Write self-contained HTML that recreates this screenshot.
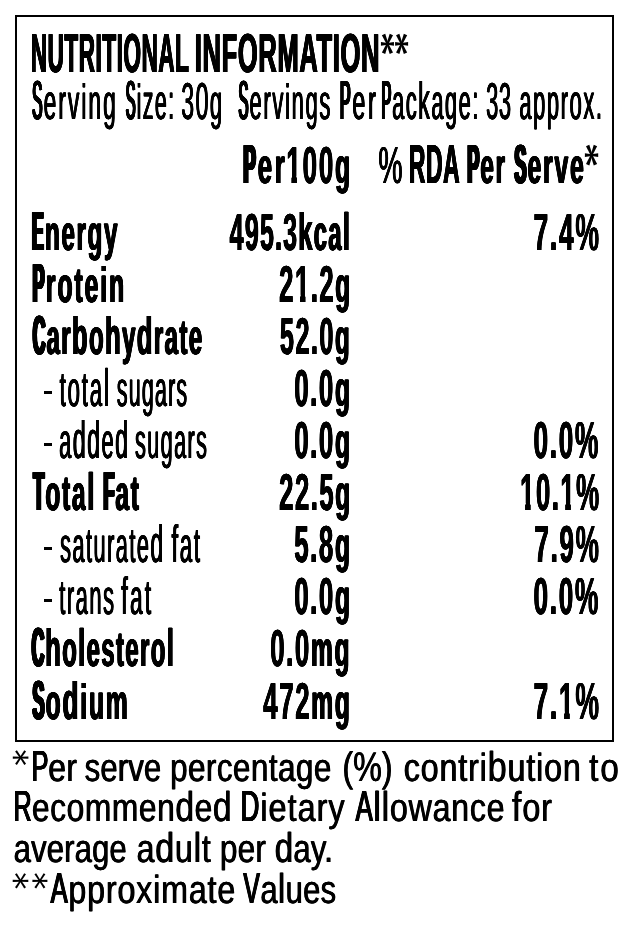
<!DOCTYPE html>
<html><head><meta charset="utf-8"><title>Nutritional Information</title><style>
html,body{margin:0;padding:0;background:#fff}
body{width:624px;height:938px;position:relative;overflow:hidden;color:#000;font-family:"Liberation Sans",sans-serif}
.box{position:absolute;left:15px;top:15px;width:595px;height:723px;border:2px solid #000}
.stars{position:absolute;left:0;top:0;fill:#000}
.dash{position:absolute;left:43.9px;width:8.4px;height:3px;background:#000}
.t{position:absolute;text-rendering:geometricPrecision;filter:grayscale(1);white-space:pre;line-height:1;transform-origin:0 0}
.b{font-weight:700;letter-spacing:3.5px;text-shadow:0.33px 0 #000,-0.33px 0 #000,0.67px 0 #000,-0.67px 0 #000,1.00px 0 #000,-1.00px 0 #000}
.r{font-weight:400;letter-spacing:3.5px;text-shadow:0.40px 0 #000,-0.40px 0 #000,0.80px 0 #000,-0.80px 0 #000}
.f{font-weight:400;letter-spacing:0.6px;text-shadow:0.50px 0 #000,-0.50px 0 #000}
</style></head><body>
<div class="box"></div>
<div class="t b" style="left:23.93px;top:26.20px;font-size:54.80px;transform:scaleX(0.4089);letter-spacing:1.50px"> NUTRITIONAL</div>
<div class="t b" style="left:186.87px;top:26.20px;font-size:54.80px;transform:scaleX(0.4646);letter-spacing:1.50px"> INFORMATION</div>
<div class="t r" style="left:23.16px;top:73.00px;font-size:54.80px;transform:scaleX(0.4569);letter-spacing:4.54px"> <span style="display:inline-block;transform:scaleX(0.620);transform-origin:0 100%;margin-right:-15.61px;text-shadow:0.37px 0 #000,-0.37px 0 #000,0.74px 0 #000,-0.74px 0 #000,1.11px 0 #000,-1.11px 0 #000,1.49px 0 #000,-1.49px 0 #000,1.86px 0 #000,-1.86px 0 #000,2.23px 0 #000,-2.23px 0 #000,2.60px 0 #000,-2.60px 0 #000">S</span><span style="font-size:49.60px">erving</span></div>
<div class="t r" style="left:117.93px;top:73.00px;font-size:54.80px;transform:scaleX(0.4315);letter-spacing:3.22px"> <span style="display:inline-block;transform:scaleX(0.620);transform-origin:0 100%;margin-right:-15.11px;text-shadow:0.37px 0 #000,-0.37px 0 #000,0.74px 0 #000,-0.74px 0 #000,1.11px 0 #000,-1.11px 0 #000,1.49px 0 #000,-1.49px 0 #000,1.86px 0 #000,-1.86px 0 #000,2.23px 0 #000,-2.23px 0 #000,2.60px 0 #000,-2.60px 0 #000">S</span><span style="font-size:49.60px">ize:</span></div>
<div class="t r" style="left:172.84px;top:73.00px;font-size:54.80px;transform:scaleX(0.4432);letter-spacing:3.38px"> <span style="font-size:52.00px">30</span><span style="font-size:49.60px">g</span></div>
<div class="t r" style="left:229.58px;top:73.00px;font-size:54.80px;transform:scaleX(0.4430);letter-spacing:3.79px"> <span style="display:inline-block;transform:scaleX(0.620);transform-origin:0 100%;margin-right:-15.33px;text-shadow:0.37px 0 #000,-0.37px 0 #000,0.74px 0 #000,-0.74px 0 #000,1.11px 0 #000,-1.11px 0 #000,1.49px 0 #000,-1.49px 0 #000,1.86px 0 #000,-1.86px 0 #000,2.23px 0 #000,-2.23px 0 #000,2.60px 0 #000,-2.60px 0 #000">S</span><span style="font-size:49.60px">ervings</span></div>
<div class="t r" style="left:329.92px;top:73.00px;font-size:54.80px;transform:scaleX(0.4720);letter-spacing:5.76px"> <span style="display:inline-block;transform:scaleX(0.620);transform-origin:0 100%;margin-right:-16.08px;text-shadow:0.37px 0 #000,-0.37px 0 #000,0.74px 0 #000,-0.74px 0 #000,1.11px 0 #000,-1.11px 0 #000,1.49px 0 #000,-1.49px 0 #000,1.86px 0 #000,-1.86px 0 #000,2.23px 0 #000,-2.23px 0 #000,2.60px 0 #000,-2.60px 0 #000">P</span><span style="font-size:49.60px">er</span></div>
<div class="t r" style="left:373.19px;top:73.00px;font-size:54.80px;transform:scaleX(0.4405);letter-spacing:3.42px"> <span style="display:inline-block;transform:scaleX(0.620);transform-origin:0 100%;margin-right:-15.19px;text-shadow:0.37px 0 #000,-0.37px 0 #000,0.74px 0 #000,-0.74px 0 #000,1.11px 0 #000,-1.11px 0 #000,1.49px 0 #000,-1.49px 0 #000,1.86px 0 #000,-1.86px 0 #000,2.23px 0 #000,-2.23px 0 #000,2.60px 0 #000,-2.60px 0 #000">P</span><span style="font-size:49.60px">ac</span><span style="font-size:52.60px">k</span><span style="font-size:49.60px">age:</span></div>
<div class="t r" style="left:479.42px;top:73.00px;font-size:54.80px;transform:scaleX(0.4211);letter-spacing:1.50px"> <span style="font-size:52.00px">33</span></div>
<div class="t r" style="left:511.48px;top:73.00px;font-size:54.80px;transform:scaleX(0.4410);letter-spacing:3.68px"> <span style="font-size:49.60px">approx.</span></div>
<div class="t b" style="left:232.75px;top:137.05px;font-size:54.80px;transform:scaleX(0.5175);letter-spacing:5.12px"> <span style="display:inline-block;transform:scaleX(0.660);transform-origin:0 100%;margin-right:-14.17px;text-shadow:0.37px 0 #000,-0.37px 0 #000,0.73px 0 #000,-0.73px 0 #000,1.10px 0 #000,-1.10px 0 #000,1.47px 0 #000,-1.47px 0 #000,1.83px 0 #000,-1.83px 0 #000,2.20px 0 #000,-2.20px 0 #000,2.57px 0 #000,-2.57px 0 #000,2.93px 0 #000,-2.93px 0 #000,3.30px 0 #000,-3.30px 0 #000">P</span><span style="font-size:49.60px">er</span></div>
<div class="t b" style="left:277.27px;top:137.05px;font-size:54.80px;transform:scaleX(0.4967);letter-spacing:3.73px"> <span style="font-size:52.00px;text-shadow:0.35px 0 #000,-0.35px 0 #000,0.70px 0 #000,-0.70px 0 #000"><span style="display:inline-block;clip-path:polygon(-5px -5px,37.7px -5px,37.7px 35.7px,20.6px 35.7px,20.6px 61.0px,10.8px 61.0px,10.8px 35.7px,-5px 35.7px)">1</span>00</span><span style="font-size:49.60px">g</span></div>
<div class="t r" style="left:367.48px;top:137.05px;font-size:54.80px;transform:scaleX(0.5227);letter-spacing:6.50px"> <span style="font-size:52.00px">%</span></div>
<div class="t b" style="left:402.10px;top:137.05px;font-size:54.80px;transform:scaleX(0.4160);letter-spacing:1.50px"> RDA</div>
<div class="t b" style="left:457.62px;top:137.05px;font-size:54.80px;transform:scaleX(0.4935);letter-spacing:3.43px"> <span style="display:inline-block;transform:scaleX(0.660);transform-origin:0 100%;margin-right:-13.60px;text-shadow:0.37px 0 #000,-0.37px 0 #000,0.73px 0 #000,-0.73px 0 #000,1.10px 0 #000,-1.10px 0 #000,1.47px 0 #000,-1.47px 0 #000,1.83px 0 #000,-1.83px 0 #000,2.20px 0 #000,-2.20px 0 #000,2.57px 0 #000,-2.57px 0 #000,2.93px 0 #000,-2.93px 0 #000,3.30px 0 #000,-3.30px 0 #000">P</span><span style="font-size:49.60px">er</span></div>
<div class="t b" style="left:505.26px;top:137.05px;font-size:54.80px;transform:scaleX(0.4968);letter-spacing:3.68px"> <span style="display:inline-block;transform:scaleX(0.660);transform-origin:0 100%;margin-right:-13.68px;text-shadow:0.37px 0 #000,-0.37px 0 #000,0.73px 0 #000,-0.73px 0 #000,1.10px 0 #000,-1.10px 0 #000,1.47px 0 #000,-1.47px 0 #000,1.83px 0 #000,-1.83px 0 #000,2.20px 0 #000,-2.20px 0 #000,2.57px 0 #000,-2.57px 0 #000,2.93px 0 #000,-2.93px 0 #000,3.30px 0 #000,-3.30px 0 #000">S</span><span style="font-size:49.60px">erve</span></div>
<div class="t b" style="left:23.37px;top:204.20px;font-size:54.80px;transform:scaleX(0.4903);letter-spacing:3.23px"> <span style="display:inline-block;transform:scaleX(0.660);transform-origin:0 100%;margin-right:-13.52px;text-shadow:0.37px 0 #000,-0.37px 0 #000,0.73px 0 #000,-0.73px 0 #000,1.10px 0 #000,-1.10px 0 #000,1.47px 0 #000,-1.47px 0 #000,1.83px 0 #000,-1.83px 0 #000,2.20px 0 #000,-2.20px 0 #000,2.57px 0 #000,-2.57px 0 #000,2.93px 0 #000,-2.93px 0 #000,3.30px 0 #000,-3.30px 0 #000">E</span><span style="font-size:49.60px">nergy</span></div>
<div class="t b" style="left:221.33px;top:204.20px;font-size:54.80px;transform:scaleX(0.4818);letter-spacing:2.63px"> <span style="font-size:52.00px;text-shadow:0.35px 0 #000,-0.35px 0 #000,0.70px 0 #000,-0.70px 0 #000">495</span><span style="font-size:49.60px">.</span><span style="font-size:52.00px;text-shadow:0.35px 0 #000,-0.35px 0 #000,0.70px 0 #000,-0.70px 0 #000">3</span><span style="font-size:52.60px">k</span><span style="font-size:49.60px">ca</span><span style="font-size:52.60px">l</span></div>
<div class="t b" style="left:523.68px;top:204.20px;font-size:54.80px;transform:scaleX(0.5035);letter-spacing:3.86px"> <span style="font-size:52.00px;text-shadow:0.35px 0 #000,-0.35px 0 #000,0.70px 0 #000,-0.70px 0 #000">7</span><span style="font-size:49.60px">.</span><span style="font-size:52.00px;text-shadow:0.35px 0 #000,-0.35px 0 #000,0.70px 0 #000,-0.70px 0 #000">4</span><span style="font-size:52.00px;font-weight:400;letter-spacing:3.5px;text-shadow:0.38px 0 #000,-0.38px 0 #000,0.75px 0 #000,-0.75px 0 #000,1.12px 0 #000,-1.12px 0 #000,1.50px 0 #000,-1.50px 0 #000">%</span></div>
<div class="t b" style="left:22.72px;top:256.05px;font-size:54.80px;transform:scaleX(0.4989);letter-spacing:3.86px"> <span style="display:inline-block;transform:scaleX(0.660);transform-origin:0 100%;margin-right:-13.74px;text-shadow:0.37px 0 #000,-0.37px 0 #000,0.73px 0 #000,-0.73px 0 #000,1.10px 0 #000,-1.10px 0 #000,1.47px 0 #000,-1.47px 0 #000,1.83px 0 #000,-1.83px 0 #000,2.20px 0 #000,-2.20px 0 #000,2.57px 0 #000,-2.57px 0 #000,2.93px 0 #000,-2.93px 0 #000,3.30px 0 #000,-3.30px 0 #000">P</span><span style="font-size:49.60px">rotein</span></div>
<div class="t b" style="left:270.14px;top:256.05px;font-size:54.80px;transform:scaleX(0.4929);letter-spacing:3.29px"> <span style="font-size:52.00px;text-shadow:0.35px 0 #000,-0.35px 0 #000,0.70px 0 #000,-0.70px 0 #000">2<span style="display:inline-block;clip-path:polygon(-5px -5px,37.2px -5px,37.2px 35.7px,20.6px 35.7px,20.6px 61.0px,10.8px 61.0px,10.8px 35.7px,-5px 35.7px)">1</span></span><span style="font-size:49.60px">.</span><span style="font-size:52.00px;text-shadow:0.35px 0 #000,-0.35px 0 #000,0.70px 0 #000,-0.70px 0 #000">2</span><span style="font-size:49.60px">g</span></div>
<div class="t b" style="left:23.75px;top:308.15px;font-size:54.80px;transform:scaleX(0.4851);letter-spacing:2.90px"> <span style="display:inline-block;transform:scaleX(0.660);transform-origin:0 100%;margin-right:-14.44px;text-shadow:0.37px 0 #000,-0.37px 0 #000,0.73px 0 #000,-0.73px 0 #000,1.10px 0 #000,-1.10px 0 #000,1.47px 0 #000,-1.47px 0 #000,1.83px 0 #000,-1.83px 0 #000,2.20px 0 #000,-2.20px 0 #000,2.57px 0 #000,-2.57px 0 #000,2.93px 0 #000,-2.93px 0 #000,3.30px 0 #000,-3.30px 0 #000">C</span><span style="font-size:49.60px">ar</span><span style="font-size:52.60px">b</span><span style="font-size:49.60px">o</span><span style="font-size:52.60px">h</span><span style="font-size:49.60px">y</span><span style="font-size:52.60px">d</span><span style="font-size:49.60px">rate</span></div>
<div class="t b" style="left:271.27px;top:308.15px;font-size:54.80px;transform:scaleX(0.4858);letter-spacing:3.17px"> <span style="font-size:52.00px;text-shadow:0.35px 0 #000,-0.35px 0 #000,0.70px 0 #000,-0.70px 0 #000">52</span><span style="font-size:49.60px">.</span><span style="font-size:52.00px;text-shadow:0.35px 0 #000,-0.35px 0 #000,0.70px 0 #000,-0.70px 0 #000">0</span><span style="font-size:49.60px">g</span></div>
<div class="t r" style="left:51.00px;top:360.00px;font-size:54.80px;transform:scaleX(0.4472);letter-spacing:4.07px"> <span style="font-size:49.60px">tota</span><span style="font-size:52.60px">l</span></div>
<div class="t r" style="left:109.03px;top:360.00px;font-size:54.80px;transform:scaleX(0.4302);letter-spacing:2.91px"> <span style="font-size:49.60px">sugars</span></div>
<div class="t b" style="left:285.09px;top:360.00px;font-size:54.80px;transform:scaleX(0.4954);letter-spacing:3.51px"> <span style="font-size:52.00px;text-shadow:0.35px 0 #000,-0.35px 0 #000,0.70px 0 #000,-0.70px 0 #000">0</span><span style="font-size:49.60px">.</span><span style="font-size:52.00px;text-shadow:0.35px 0 #000,-0.35px 0 #000,0.70px 0 #000,-0.70px 0 #000">0</span><span style="font-size:49.60px">g</span></div>
<div class="t r" style="left:51.40px;top:412.10px;font-size:54.80px;transform:scaleX(0.4401);letter-spacing:3.35px"> <span style="font-size:49.60px">a</span><span style="font-size:52.60px">dd</span><span style="font-size:49.60px">e</span><span style="font-size:52.60px">d</span></div>
<div class="t r" style="left:126.82px;top:412.10px;font-size:54.80px;transform:scaleX(0.4356);letter-spacing:3.21px"> <span style="font-size:49.60px">sugars</span></div>
<div class="t b" style="left:285.09px;top:412.10px;font-size:54.80px;transform:scaleX(0.4954);letter-spacing:3.51px"> <span style="font-size:52.00px;text-shadow:0.35px 0 #000,-0.35px 0 #000,0.70px 0 #000,-0.70px 0 #000">0</span><span style="font-size:49.60px">.</span><span style="font-size:52.00px;text-shadow:0.35px 0 #000,-0.35px 0 #000,0.70px 0 #000,-0.70px 0 #000">0</span><span style="font-size:49.60px">g</span></div>
<div class="t b" style="left:524.26px;top:412.10px;font-size:54.80px;transform:scaleX(0.4996);letter-spacing:3.86px"> <span style="font-size:52.00px;text-shadow:0.35px 0 #000,-0.35px 0 #000,0.70px 0 #000,-0.70px 0 #000">0</span><span style="font-size:49.60px">.</span><span style="font-size:52.00px;text-shadow:0.35px 0 #000,-0.35px 0 #000,0.70px 0 #000,-0.70px 0 #000">0</span><span style="font-size:52.00px;font-weight:400;letter-spacing:3.5px;text-shadow:0.38px 0 #000,-0.38px 0 #000,0.75px 0 #000,-0.75px 0 #000,1.12px 0 #000,-1.12px 0 #000,1.50px 0 #000,-1.50px 0 #000">%</span></div>
<div class="t b" style="left:23.80px;top:464.20px;font-size:54.80px;transform:scaleX(0.4943);letter-spacing:3.47px"> <span style="display:inline-block;transform:scaleX(0.660);transform-origin:0 100%;margin-right:-12.56px;text-shadow:0.37px 0 #000,-0.37px 0 #000,0.73px 0 #000,-0.73px 0 #000,1.10px 0 #000,-1.10px 0 #000,1.47px 0 #000,-1.47px 0 #000,1.83px 0 #000,-1.83px 0 #000,2.20px 0 #000,-2.20px 0 #000,2.57px 0 #000,-2.57px 0 #000,2.93px 0 #000,-2.93px 0 #000,3.30px 0 #000,-3.30px 0 #000">T</span><span style="font-size:49.60px">ota</span><span style="font-size:52.60px">l</span></div>
<div class="t b" style="left:93.69px;top:464.20px;font-size:54.80px;transform:scaleX(0.4951);letter-spacing:3.50px"> <span style="display:inline-block;transform:scaleX(0.660);transform-origin:0 100%;margin-right:-12.57px;text-shadow:0.37px 0 #000,-0.37px 0 #000,0.73px 0 #000,-0.73px 0 #000,1.10px 0 #000,-1.10px 0 #000,1.47px 0 #000,-1.47px 0 #000,1.83px 0 #000,-1.83px 0 #000,2.20px 0 #000,-2.20px 0 #000,2.57px 0 #000,-2.57px 0 #000,2.93px 0 #000,-2.93px 0 #000,3.30px 0 #000,-3.30px 0 #000">F</span><span style="font-size:49.60px">at</span></div>
<div class="t b" style="left:270.14px;top:464.20px;font-size:54.80px;transform:scaleX(0.4929);letter-spacing:3.29px"> <span style="font-size:52.00px;text-shadow:0.35px 0 #000,-0.35px 0 #000,0.70px 0 #000,-0.70px 0 #000">22</span><span style="font-size:49.60px">.</span><span style="font-size:52.00px;text-shadow:0.35px 0 #000,-0.35px 0 #000,0.70px 0 #000,-0.70px 0 #000">5</span><span style="font-size:49.60px">g</span></div>
<div class="t b" style="left:510.67px;top:464.20px;font-size:54.80px;transform:scaleX(0.4917);letter-spacing:3.36px"> <span style="font-size:52.00px;text-shadow:0.35px 0 #000,-0.35px 0 #000,0.70px 0 #000,-0.70px 0 #000"><span style="display:inline-block;clip-path:polygon(-5px -5px,37.3px -5px,37.3px 35.7px,20.6px 35.7px,20.6px 61.0px,10.8px 61.0px,10.8px 35.7px,-5px 35.7px)">1</span>0</span><span style="font-size:49.60px">.</span><span style="font-size:52.00px;text-shadow:0.35px 0 #000,-0.35px 0 #000,0.70px 0 #000,-0.70px 0 #000"><span style="display:inline-block;clip-path:polygon(-5px -5px,37.3px -5px,37.3px 35.7px,20.6px 35.7px,20.6px 61.0px,10.8px 61.0px,10.8px 35.7px,-5px 35.7px)">1</span></span><span style="font-size:52.00px;font-weight:400;letter-spacing:3.5px;text-shadow:0.38px 0 #000,-0.38px 0 #000,0.75px 0 #000,-0.75px 0 #000,1.12px 0 #000,-1.12px 0 #000,1.50px 0 #000,-1.50px 0 #000">%</span></div>
<div class="t r" style="left:51.59px;top:516.05px;font-size:54.80px;transform:scaleX(0.4373);letter-spacing:3.39px"> <span style="font-size:49.60px">saturate</span><span style="font-size:52.60px">d</span></div>
<div class="t r" style="left:163.04px;top:516.05px;font-size:54.80px;transform:scaleX(0.4453);letter-spacing:3.92px"> <span style="font-size:52.60px">f</span><span style="font-size:49.60px">at</span></div>
<div class="t b" style="left:285.09px;top:516.05px;font-size:54.80px;transform:scaleX(0.4954);letter-spacing:3.51px"> <span style="font-size:52.00px;text-shadow:0.35px 0 #000,-0.35px 0 #000,0.70px 0 #000,-0.70px 0 #000">5</span><span style="font-size:49.60px">.</span><span style="font-size:52.00px;text-shadow:0.35px 0 #000,-0.35px 0 #000,0.70px 0 #000,-0.70px 0 #000">8</span><span style="font-size:49.60px">g</span></div>
<div class="t b" style="left:524.55px;top:516.05px;font-size:54.80px;transform:scaleX(0.4977);letter-spacing:3.77px"> <span style="font-size:52.00px;text-shadow:0.35px 0 #000,-0.35px 0 #000,0.70px 0 #000,-0.70px 0 #000">7</span><span style="font-size:49.60px">.</span><span style="font-size:52.00px;text-shadow:0.35px 0 #000,-0.35px 0 #000,0.70px 0 #000,-0.70px 0 #000">9</span><span style="font-size:52.00px;font-weight:400;letter-spacing:3.5px;text-shadow:0.38px 0 #000,-0.38px 0 #000,0.75px 0 #000,-0.75px 0 #000,1.12px 0 #000,-1.12px 0 #000,1.50px 0 #000,-1.50px 0 #000">%</span></div>
<div class="t r" style="left:51.43px;top:568.15px;font-size:54.80px;transform:scaleX(0.4407);letter-spacing:3.50px"> <span style="font-size:49.60px">trans</span></div>
<div class="t r" style="left:111.73px;top:568.15px;font-size:54.80px;transform:scaleX(0.4537);letter-spacing:4.96px"> <span style="font-size:52.60px">f</span><span style="font-size:49.60px">at</span></div>
<div class="t b" style="left:285.09px;top:568.15px;font-size:54.80px;transform:scaleX(0.4954);letter-spacing:3.51px"> <span style="font-size:52.00px;text-shadow:0.35px 0 #000,-0.35px 0 #000,0.70px 0 #000,-0.70px 0 #000">0</span><span style="font-size:49.60px">.</span><span style="font-size:52.00px;text-shadow:0.35px 0 #000,-0.35px 0 #000,0.70px 0 #000,-0.70px 0 #000">0</span><span style="font-size:49.60px">g</span></div>
<div class="t b" style="left:524.26px;top:568.15px;font-size:54.80px;transform:scaleX(0.4996);letter-spacing:3.86px"> <span style="font-size:52.00px;text-shadow:0.35px 0 #000,-0.35px 0 #000,0.70px 0 #000,-0.70px 0 #000">0</span><span style="font-size:49.60px">.</span><span style="font-size:52.00px;text-shadow:0.35px 0 #000,-0.35px 0 #000,0.70px 0 #000,-0.70px 0 #000">0</span><span style="font-size:52.00px;font-weight:400;letter-spacing:3.5px;text-shadow:0.38px 0 #000,-0.38px 0 #000,0.75px 0 #000,-0.75px 0 #000,1.12px 0 #000,-1.12px 0 #000,1.50px 0 #000,-1.50px 0 #000">%</span></div>
<div class="t b" style="left:23.30px;top:620.00px;font-size:54.80px;transform:scaleX(0.4826);letter-spacing:2.87px"> <span style="display:inline-block;transform:scaleX(0.660);transform-origin:0 100%;margin-right:-14.43px;text-shadow:0.37px 0 #000,-0.37px 0 #000,0.73px 0 #000,-0.73px 0 #000,1.10px 0 #000,-1.10px 0 #000,1.47px 0 #000,-1.47px 0 #000,1.83px 0 #000,-1.83px 0 #000,2.20px 0 #000,-2.20px 0 #000,2.57px 0 #000,-2.57px 0 #000,2.93px 0 #000,-2.93px 0 #000,3.30px 0 #000,-3.30px 0 #000">C</span><span style="font-size:52.60px">h</span><span style="font-size:49.60px">o</span><span style="font-size:52.60px">l</span><span style="font-size:49.60px">estero</span><span style="font-size:52.60px">l</span></div>
<div class="t b" style="left:261.35px;top:620.00px;font-size:54.80px;transform:scaleX(0.4952);letter-spacing:3.50px"> <span style="font-size:52.00px;text-shadow:0.35px 0 #000,-0.35px 0 #000,0.70px 0 #000,-0.70px 0 #000">0</span><span style="font-size:49.60px">.</span><span style="font-size:52.00px;text-shadow:0.35px 0 #000,-0.35px 0 #000,0.70px 0 #000,-0.70px 0 #000">0</span><span style="font-size:49.60px">mg</span></div>
<div class="t b" style="left:22.54px;top:672.60px;font-size:54.80px;transform:scaleX(0.4979);letter-spacing:3.60px"> <span style="display:inline-block;transform:scaleX(0.660);transform-origin:0 100%;margin-right:-13.65px;text-shadow:0.37px 0 #000,-0.37px 0 #000,0.73px 0 #000,-0.73px 0 #000,1.10px 0 #000,-1.10px 0 #000,1.47px 0 #000,-1.47px 0 #000,1.83px 0 #000,-1.83px 0 #000,2.20px 0 #000,-2.20px 0 #000,2.57px 0 #000,-2.57px 0 #000,2.93px 0 #000,-2.93px 0 #000,3.30px 0 #000,-3.30px 0 #000">S</span><span style="font-size:49.60px">o</span><span style="font-size:52.60px">d</span><span style="font-size:49.60px">ium</span></div>
<div class="t b" style="left:254.33px;top:672.60px;font-size:54.80px;transform:scaleX(0.4956);letter-spacing:3.39px"> <span style="font-size:52.00px;text-shadow:0.35px 0 #000,-0.35px 0 #000,0.70px 0 #000,-0.70px 0 #000">472</span><span style="font-size:49.60px">mg</span></div>
<div class="t b" style="left:523.68px;top:672.60px;font-size:54.80px;transform:scaleX(0.5035);letter-spacing:3.86px"> <span style="font-size:52.00px;text-shadow:0.35px 0 #000,-0.35px 0 #000,0.70px 0 #000,-0.70px 0 #000">7</span><span style="font-size:49.60px">.</span><span style="font-size:52.00px;text-shadow:0.35px 0 #000,-0.35px 0 #000,0.70px 0 #000,-0.70px 0 #000"><span style="display:inline-block;clip-path:polygon(-5px -5px,37.8px -5px,37.8px 35.7px,20.6px 35.7px,20.6px 61.0px,10.8px 61.0px,10.8px 35.7px,-5px 35.7px)">1</span></span><span style="font-size:52.00px;font-weight:400;letter-spacing:3.5px;text-shadow:0.38px 0 #000,-0.38px 0 #000,0.75px 0 #000,-0.75px 0 #000,1.12px 0 #000,-1.12px 0 #000,1.50px 0 #000,-1.50px 0 #000">%</span></div>
<div class="t f" style="left:20.89px;top:745.71px;font-size:43.57px;transform:scaleX(0.8074);letter-spacing:0.42px"> <span style="display:inline-block;transform:scaleX(0.720);transform-origin:0 100%;margin-right:-8.25px;text-shadow:0.33px 0 #000,-0.33px 0 #000,0.67px 0 #000,-0.67px 0 #000,1.00px 0 #000,-1.00px 0 #000">P</span><span style="font-size:39.43px">er</span></div>
<div class="t f" style="left:75.04px;top:745.71px;font-size:43.57px;transform:scaleX(0.7895);letter-spacing:0.14px"> <span style="font-size:39.43px">serve</span></div>
<div class="t f" style="left:160.43px;top:745.71px;font-size:43.57px;transform:scaleX(0.7980);letter-spacing:0.53px"> <span style="font-size:39.43px">percentage</span></div>
<div class="t f" style="left:333.36px;top:745.71px;font-size:43.57px;transform:scaleX(0.7817);letter-spacing:-0.06px"> <span style="font-size:41.34px">(%)</span></div>
<div class="t f" style="left:393.14px;top:745.71px;font-size:43.57px;transform:scaleX(0.8188);letter-spacing:1.01px"> <span style="font-size:39.43px">contri</span><span style="font-size:41.82px">b</span><span style="font-size:39.43px">ution</span></div>
<div class="t f" style="left:576.88px;top:745.71px;font-size:43.57px;transform:scaleX(0.8412);letter-spacing:2.35px"> <span style="font-size:39.43px">to</span></div>
<div class="t f" style="left:3.02px;top:786.11px;font-size:43.57px;transform:scaleX(0.8056);letter-spacing:0.69px"> <span style="display:inline-block;transform:scaleX(0.720);transform-origin:0 100%;margin-right:-9.00px;text-shadow:0.33px 0 #000,-0.33px 0 #000,0.67px 0 #000,-0.67px 0 #000,1.00px 0 #000,-1.00px 0 #000">R</span><span style="font-size:39.43px">ecommen</span><span style="font-size:41.82px">d</span><span style="font-size:39.43px">e</span><span style="font-size:41.82px">d</span></div>
<div class="t f" style="left:229.68px;top:786.11px;font-size:43.57px;transform:scaleX(0.8216);letter-spacing:1.24px"> <span style="display:inline-block;transform:scaleX(0.720);transform-origin:0 100%;margin-right:-9.16px;text-shadow:0.33px 0 #000,-0.33px 0 #000,0.67px 0 #000,-0.67px 0 #000,1.00px 0 #000,-1.00px 0 #000">D</span><span style="font-size:39.43px">ietary</span></div>
<div class="t f" style="left:344.50px;top:786.11px;font-size:43.57px;transform:scaleX(0.8165);letter-spacing:0.91px"> <span style="display:inline-block;transform:scaleX(0.720);transform-origin:0 100%;margin-right:-8.39px;text-shadow:0.33px 0 #000,-0.33px 0 #000,0.67px 0 #000,-0.67px 0 #000,1.00px 0 #000,-1.00px 0 #000">A</span><span style="font-size:41.82px">ll</span><span style="font-size:39.43px">owance</span></div>
<div class="t f" style="left:501.23px;top:786.11px;font-size:43.57px;transform:scaleX(0.8204);letter-spacing:1.11px"> <span style="font-size:41.82px">f</span><span style="font-size:39.43px">or</span></div>
<div class="t f" style="left:3.52px;top:827.11px;font-size:43.57px;transform:scaleX(0.7870);letter-spacing:0.19px"> <span style="font-size:39.43px">average</span></div>
<div class="t f" style="left:125.68px;top:827.11px;font-size:43.57px;transform:scaleX(0.8156);letter-spacing:0.89px"> <span style="font-size:39.43px">a</span><span style="font-size:41.82px">d</span><span style="font-size:39.43px">u</span><span style="font-size:41.82px">l</span><span style="font-size:39.43px">t</span></div>
<div class="t f" style="left:210.40px;top:827.11px;font-size:43.57px;transform:scaleX(0.8000);letter-spacing:0.29px"> <span style="font-size:39.43px">per</span></div>
<div class="t f" style="left:265.44px;top:827.11px;font-size:43.57px;transform:scaleX(0.7899);letter-spacing:0.24px"> <span style="font-size:41.82px">d</span><span style="font-size:39.43px">ay.</span></div>
<div class="t f" style="left:39.90px;top:868.11px;font-size:43.57px;transform:scaleX(0.8164);letter-spacing:1.03px"> <span style="display:inline-block;transform:scaleX(0.720);transform-origin:0 100%;margin-right:-8.42px;text-shadow:0.33px 0 #000,-0.33px 0 #000,0.67px 0 #000,-0.67px 0 #000,1.00px 0 #000,-1.00px 0 #000">A</span><span style="font-size:39.43px">pproximate</span></div>
<div class="t f" style="left:233.95px;top:868.11px;font-size:43.57px;transform:scaleX(0.7864);letter-spacing:0.35px"> <span style="display:inline-block;transform:scaleX(0.720);transform-origin:0 100%;margin-right:-8.23px;text-shadow:0.33px 0 #000,-0.33px 0 #000,0.67px 0 #000,-0.67px 0 #000,1.00px 0 #000,-1.00px 0 #000">V</span><span style="font-size:39.43px">a</span><span style="font-size:41.82px">l</span><span style="font-size:39.43px">ues</span></div>
<svg class="stars" width="624" height="938" viewBox="0 0 624 938"><polygon points="387.45,44.75 393.95,45.65 393.95,42.05 387.45,42.95"/><polygon points="387.45,42.95 380.95,42.05 380.95,45.65 387.45,44.75"/><polygon points="386.62,44.19 389.69,53.94 393.01,52.56 388.28,43.51"/><polygon points="386.62,43.51 381.89,52.56 385.21,53.94 388.28,44.19"/><polygon points="388.28,44.19 393.01,35.14 389.69,33.76 386.62,43.51"/><polygon points="388.28,43.51 385.21,33.76 381.89,35.14 386.62,44.19"/><polygon points="401.60,44.75 408.10,45.65 408.10,42.05 401.60,42.95"/><polygon points="401.60,42.95 395.10,42.05 395.10,45.65 401.60,44.75"/><polygon points="400.77,44.19 403.84,53.94 407.16,52.56 402.43,43.51"/><polygon points="400.77,43.51 396.04,52.56 399.36,53.94 402.43,44.19"/><polygon points="402.43,44.19 407.16,35.14 403.84,33.76 400.77,43.51"/><polygon points="402.43,43.51 399.36,33.76 396.04,35.14 400.77,44.19"/><polygon points="591.55,156.00 598.20,156.90 598.20,153.30 591.55,154.20"/><polygon points="591.55,154.20 584.90,153.30 584.90,156.90 591.55,156.00"/><polygon points="590.72,155.44 593.78,165.38 597.12,164.02 592.38,154.76"/><polygon points="590.72,154.76 585.98,164.02 589.32,165.38 592.38,155.44"/><polygon points="592.38,155.44 597.12,146.18 593.78,144.82 590.72,154.76"/><polygon points="592.38,154.76 589.32,144.82 585.98,146.18 590.72,155.44"/><polygon points="20.60,758.45 28.40,758.65 28.40,756.55 20.60,756.75"/><polygon points="20.60,756.75 12.80,756.55 12.80,758.65 20.60,758.45"/><polygon points="19.90,758.08 24.33,764.99 26.07,763.81 21.30,757.12"/><polygon points="19.90,757.12 15.13,763.81 16.87,764.99 21.30,758.08"/><polygon points="21.30,758.08 26.07,751.39 24.33,750.21 19.90,757.12"/><polygon points="21.30,757.12 16.87,750.21 15.13,751.39 19.90,758.08"/><polygon points="20.50,881.70 28.30,881.90 28.30,879.80 20.50,880.00"/><polygon points="20.50,880.00 12.70,879.80 12.70,881.90 20.50,881.70"/><polygon points="19.79,881.31 24.22,888.47 25.98,887.33 21.21,880.39"/><polygon points="19.79,880.39 15.02,887.33 16.78,888.47 21.21,881.31"/><polygon points="21.21,881.31 25.98,874.37 24.22,873.23 19.79,880.39"/><polygon points="21.21,880.39 16.78,873.23 15.02,874.37 19.79,881.31"/><polygon points="39.90,881.70 47.40,881.90 47.40,879.80 39.90,880.00"/><polygon points="39.90,880.00 32.40,879.80 32.40,881.90 39.90,881.70"/><polygon points="39.19,881.31 43.62,888.47 45.38,887.33 40.61,880.39"/><polygon points="39.19,880.39 34.42,887.33 36.18,888.47 40.61,881.31"/><polygon points="40.61,881.31 45.38,874.37 43.62,873.23 39.19,880.39"/><polygon points="40.61,880.39 36.18,873.23 34.42,874.37 39.19,881.31"/></svg>
<div class="dash" style="top:390.5px"></div>
<div class="dash" style="top:442.5px"></div>
<div class="dash" style="top:546.5px"></div>
<div class="dash" style="top:598.5px"></div>
</body></html>
